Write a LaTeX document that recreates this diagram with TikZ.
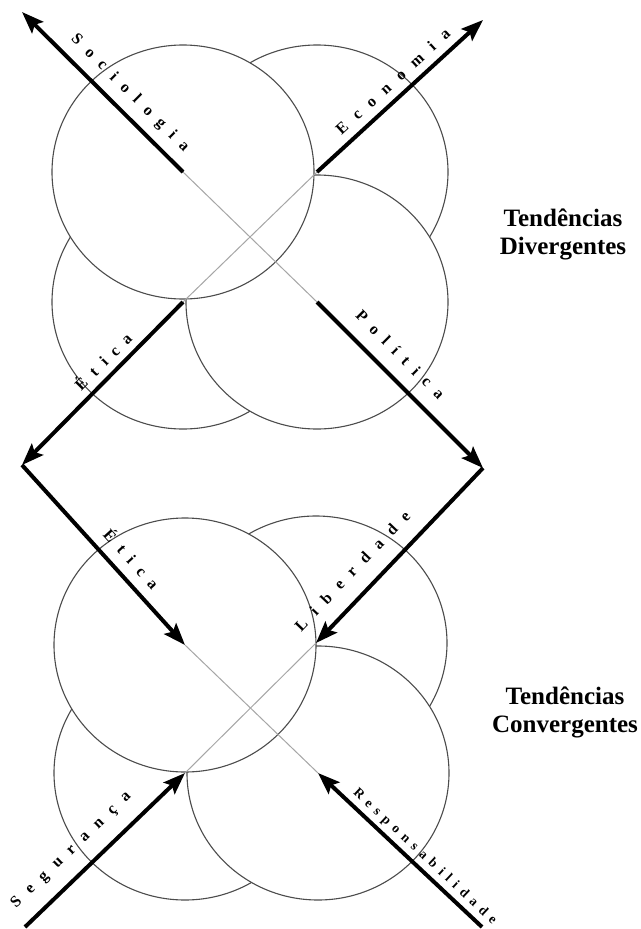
\documentclass[tikz,border=0pt]{standalone}
\usepackage{fontspec}
\setmainfont{Liberation Serif}
\usetikzlibrary{arrows.meta}

% letter-spaced label text
\newcommand\spaceout[2]{\def\sokern{#1}\spaceoutA#2\relax}
\def\spaceoutA#1#2{#1\ifx#2\relax\else\kern\sokern\relax\expandafter\spaceoutA\fi#2}

\begin{document}
\begin{tikzpicture}[x=1pt, y=-1pt,
        disc/.style={draw=black!70, line width=1.1pt, fill=white, x radius=131, y radius=127},
        axis/.style={draw=black!35, line width=1pt},
        force/.style={line width=4pt, -{Stealth[length=22pt, width=16pt, inset=4pt]}},
        lbl/.style={sloped, inner sep=1pt, font=\bfseries\fontsize{16}{16}\selectfont},
        title/.style={align=center, font=\bfseries\fontsize{25}{28}\selectfont}
        ]
      \useasboundingbox (0,0) rectangle (640,929);

      % upper group
      \coordinate (soc) at (183,172);
      \coordinate (eco) at (317,172);
      \coordinate (eti) at (183,302);
      \coordinate (pol) at (317,302);
      \coordinate (socend) at (22,12);
      \coordinate (ecoend) at (483,20);
      \coordinate (lcorner) at (22,465);
      \coordinate (rcorner) at (483,468);

      % lower group
      \coordinate (eti2) at (185,645);
      \coordinate (lib) at (316,643);
      \coordinate (seg) at (185,773);
      \coordinate (res) at (318,773);
      \coordinate (segstart) at (25,927);
      \coordinate (resstart) at (482,927);

      \path[disc] (eco) circle[];
      \path[disc] (eti) circle[];
      \path[disc] (pol) circle[];
      \path[disc] (soc) circle[];
      \draw[axis] (soc) -- (pol);
      \draw[axis] (eco) -- (eti);

      \path[disc] (lib) circle[];
      \path[disc] (seg) circle[];
      \path[disc] (res) circle[];
      \path[disc] (eti2) circle[];
      \draw[axis] (eti2) -- (res);
      \draw[axis] (lib) -- (seg);

      \draw[force] (soc) -- node[lbl, pos=0.41, above=8pt] {\spaceout{10pt}{Sociologia}} (socend);
      \draw[force] (eco) -- node[lbl, pos=0.52, above=7pt] {\spaceout{11.5pt}{Economia}} (ecoend);
      \draw[force] (eti) -- node[lbl, pos=0.43, above=6pt] {\spaceout{9.5pt}{Ética}} (lcorner);
      \draw[force] (pol) -- node[lbl, pos=0.41, above=13pt] {\spaceout{9.5pt}{Política}} (rcorner);

      \draw[force] (lcorner) -- node[lbl, pos=0.59, above=9pt] {\spaceout{9.5pt}{Ética}} (eti2);
      \draw[force] (rcorner) -- node[lbl, pos=0.68, above=15pt] {\spaceout{11pt}{Liberdade}} (lib);
      \draw[force] (segstart) -- node[lbl, pos=0.39, above=13pt] {\spaceout{11pt}{Segurança}} (seg);
      \draw[force] (resstart) -- node[lbl, pos=0.40, above=3pt, font=\bfseries\fontsize{13.5}{13.5}\selectfont] {\spaceout{6pt}{Responsabilidade}} (res);

      \node[title] (div) at (563,234) {Tendências\\Divergentes};
      \node[title] (conv) at (565,712) {Tendências\\Convergentes};
    \end{tikzpicture}
\end{document}
